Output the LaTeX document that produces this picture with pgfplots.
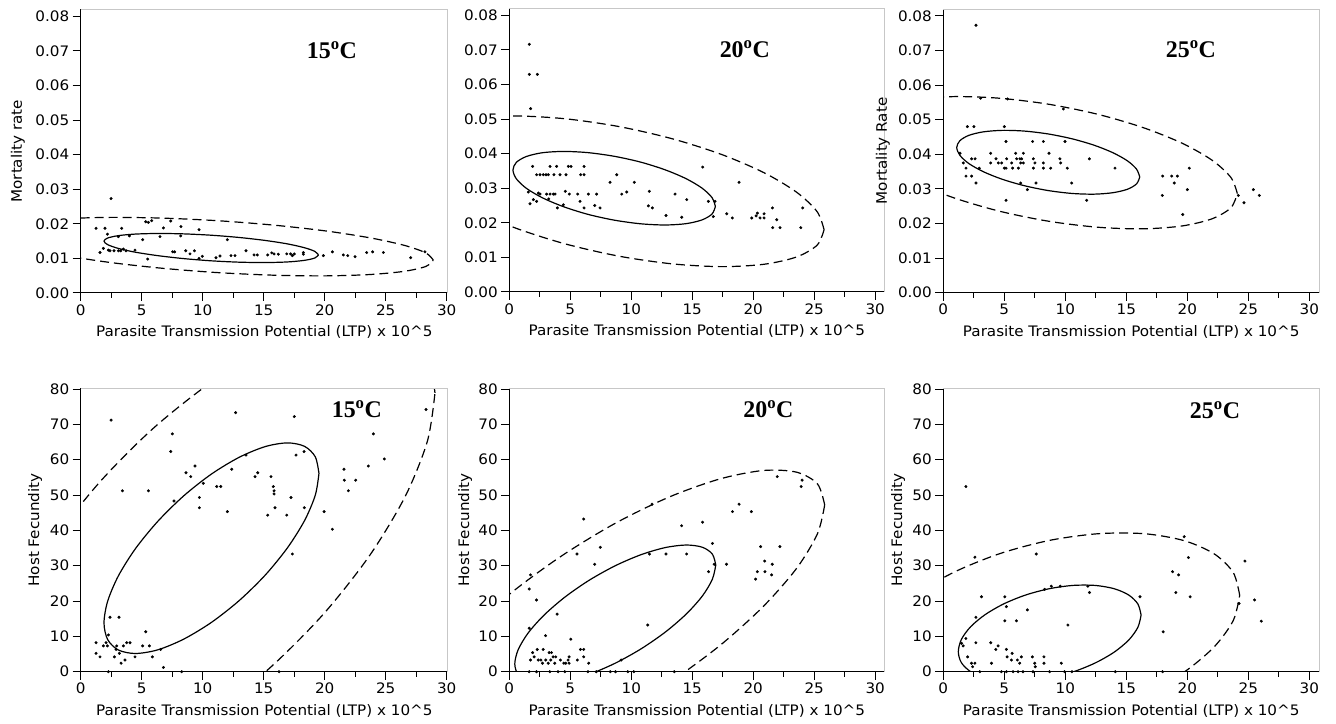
\documentclass[border=0pt]{standalone}
\usepackage{fontspec}
\setmainfont{DejaVu Sans}[FakeStretch=1.05]
\newfontfamily\tfont{Liberation Serif}
\usepackage{pgfplots}
\pgfplotsset{compat=1.18}
\pgfplotsset{
  panel/.style={
    scale only axis,
    anchor=south west,
    axis lines*=left,
    axis line style={black, line width=1bp},
    tick align=outside,
    major tick length=8bp,
    minor tick length=5bp,
    tick style={black, line width=1bp},
    xmin=0,
    xtick={0,5,10,15,20,25,30},
    minor x tick num=1,
    tick label style={font=\fontsize{14.5}{17}\selectfont},
    label style={font=\fontsize{14.5}{17}\selectfont},
    /pgf/number format/assume math mode=true,
    xlabel={Parasite Transmission Potential (LTP) x 10\textasciicircum 5},
    xlabel style={at={(axis description cs:0.5,-0.137)}, anchor=center},
    extra description/.code={\draw[black!22, line width=1bp] (0,1) -- (1,1) -- (1,0);},
  },
  toprow/.style={ymin=0, ymax=0.082, height=283.7bp,
    ytick={0,0.01,0.02,0.03,0.04,0.05,0.06,0.07,0.08},
    scaled y ticks=false,
    yticklabel style={/pgf/number format/.cd, fixed, fixed zerofill, precision=2}},
  botrow/.style={ymin=0, ymax=80.2, height=283.4bp, ytick={0,10,20,30,40,50,60,70,80}},
  dots/.style={only marks, mark=*, mark size=1.3bp, black},
  ell/.style={black, line width=1.2bp, smooth, no markers},
  dell/.style={black, line width=1.2bp, smooth, no markers, dash pattern=on 9bp off 5bp},
}
\newcommand{\ttl}[1]{{\tfont\bfseries\fontsize{24}{26}\selectfont #1\textsuperscript{o}C}}
\begin{document}
\begin{tikzpicture}
\path[use as bounding box] (0,0) rectangle (1336bp,724bp);

% ---------- Panel 1 ----------
\begin{axis}[panel, toprow, at={(80.7bp,431bp)}, width=367.2bp, xmax=30.1,
  ylabel={Mortality rate}, ylabel style={at={(axis description cs:-0.171,0.5)}, anchor=center}]
\addplot[dots] coordinates {
(1.26,0.0187)(1.99,0.0187)(2.49,0.0273)(1.58,0.0117)(1.86,0.0129)(2.19,0.0170)(2.27,0.0124)(2.40,0.0122)
(2.73,0.0122)(3.09,0.0122)(3.09,0.0163)(3.28,0.0122)(3.36,0.0187)(3.50,0.0127)(3.72,0.0122)(3.99,0.0165)
(4.45,0.0124)(5.08,0.0154)(5.33,0.0206)(5.55,0.0204)(5.82,0.0209)(5.49,0.0098)(6.50,0.0163)(6.78,0.0188)
(7.38,0.0208)(7.54,0.0119)(7.70,0.0119)(8.22,0.0192)(8.20,0.0165)(8.61,0.0122)(8.96,0.0113)(9.32,0.0122)
(9.70,0.0183)(9.70,0.0100)(9.97,0.0106)(11.09,0.0102)(11.42,0.0107)(12.02,0.0154)(12.32,0.0108)(12.65,0.0108)
(13.55,0.0122)(14.21,0.0110)(14.48,0.0110)(15.33,0.0110)(15.66,0.0116)(15.85,0.0113)(16.20,0.0112)(16.89,0.0113)
(17.21,0.0113)(17.35,0.0108)(17.51,0.0113)(18.25,0.0117)(18.25,0.0112)(19.89,0.0108)(20.63,0.0119)(21.53,0.0110)
(21.89,0.0108)(22.49,0.0105)(23.44,0.0117)(23.93,0.0119)(24.81,0.0117)(27.05,0.0102)(28.22,0.0119)};
\addplot[ell] coordinates {(19.49,0.0110)(19.19,0.01203)(18.31,0.01312)(16.92,0.01421)(15.10,0.0152)(12.98,0.01605)(10.70,0.0167)(8.42,0.01709)(6.31,0.0172)(4.48,0.01703)(3.09,0.01658)(2.21,0.01589)(1.91,0.0150)(2.21,0.01397)(3.09,0.01288)(4.48,0.01179)(6.31,0.0108)(8.42,0.00995)(10.70,0.0093)(12.98,0.00891)(15.10,0.0088)(16.92,0.00897)(18.31,0.00942)(19.19,0.01011)(19.49,0.0110)};
\addplot[dell] coordinates {(28.90,0.0095)(28.30,0.01157)(26.53,0.01377)(23.72,0.01594)(20.05,0.01795)(15.78,0.01963)(11.20,0.0209)(6.62,0.02165)(2.35,0.02185)(-1.32,0.02146)(-4.13,0.02053)(-5.90,0.01911)(-6.50,0.0173)(-5.90,0.01523)(-4.13,0.01303)(-1.32,0.01086)(2.35,0.00885)(6.62,0.00717)(11.20,0.0059)(15.78,0.00515)(20.05,0.00495)(23.72,0.00534)(26.53,0.00627)(28.30,0.00769)(28.90,0.0095)};
\node at (rel axis cs:0.684,0.857) {\ttl{15}};
\end{axis}

% ---------- Panel 2 ----------
\begin{axis}[panel, toprow, at={(509.3bp,432bp)}, width=375bp, xmax=30.75]
\addplot[dots] coordinates {
(1.64,0.0716)(1.64,0.0629)(2.30,0.0629)(1.75,0.0530)(1.56,0.0289)(1.91,0.0363)(1.70,0.0255)(1.97,0.0267)
(2.24,0.0262)(2.38,0.0286)(2.24,0.0339)(2.52,0.0339)(2.79,0.0339)(3.01,0.0339)(3.20,0.0339)(2.52,0.0283)
(3.06,0.0283)(3.34,0.0283)(3.61,0.0283)(3.75,0.0283)(3.23,0.0269)(3.34,0.0363)(3.66,0.0339)(3.88,0.0363)
(4.16,0.0339)(3.94,0.0243)(4.43,0.0252)(4.59,0.0291)(4.65,0.0339)(4.84,0.0363)(5.06,0.0363)(4.92,0.0283)
(5.61,0.0283)(5.80,0.0262)(5.85,0.0339)(6.13,0.0339)(6.13,0.0363)(6.13,0.0243)(6.48,0.0283)(7.00,0.0250)
(7.16,0.0283)(7.44,0.0243)(8.26,0.0317)(8.81,0.0339)(9.22,0.0283)(9.63,0.0289)(10.25,0.0317)(11.40,0.0249)
(11.48,0.0291)(11.73,0.0243)(12.85,0.0221)(13.59,0.0283)(14.14,0.0216)(14.55,0.0267)(15.86,0.0361)(16.32,0.0262)
(16.73,0.0218)(16.87,0.0262)(17.83,0.0226)(18.29,0.0214)(18.84,0.0317)(19.88,0.0214)(20.24,0.0220)(20.34,0.0228)
(20.56,0.0214)(20.89,0.0226)(20.89,0.0214)(21.58,0.0243)(21.60,0.0186)(21.93,0.0209)(22.20,0.0186)(23.90,0.0186)
(24.06,0.0243)};
\addplot[ell] coordinates {(16.90,0.02473)(16.62,0.0273)(15.79,0.03006)(14.47,0.0328)(12.75,0.03535)(10.75,0.03756)(8.60,0.03923)(6.45,0.04028)(4.45,0.04063)(2.73,0.04026)(1.41,0.03918)(0.58,0.03748)(0.30,0.03527)(0.58,0.0327)(1.41,0.02994)(2.73,0.0272)(4.45,0.02465)(6.45,0.02244)(8.60,0.02077)(10.75,0.01972)(12.75,0.01937)(14.47,0.01974)(15.79,0.02082)(16.62,0.02252)(16.90,0.02473)};
\addplot[dell] coordinates {(25.81,0.0180)(25.24,0.02323)(23.55,0.02886)(20.88,0.03449)(17.39,0.03977)(13.33,0.04432)(8.97,0.04783)(4.61,0.05006)(0.55,0.05087)(-2.94,0.05019)(-5.61,0.04808)(-7.30,0.04467)(-7.87,0.0402)(-7.30,0.03497)(-5.61,0.02934)(-2.94,0.02371)(0.55,0.01843)(4.61,0.01388)(8.97,0.01037)(13.33,0.00814)(17.39,0.00733)(20.88,0.00801)(23.55,0.01012)(25.24,0.01353)(25.81,0.0180)};
\node at (rel axis cs:0.628,0.855) {\ttl{20}};
\end{axis}

% ---------- Panel 3 ----------
\begin{axis}[panel, toprow, at={(943.3bp,431.3bp)}, width=375.8bp, xmax=30.8,
  ylabel={Mortality Rate}, ylabel style={at={(axis description cs:-0.161,0.5)}, anchor=center}]
\addplot[dots] coordinates {
(2.68,0.0773)(1.97,0.0480)(2.51,0.0480)(1.37,0.0403)(1.64,0.0375)(1.86,0.0360)(1.86,0.0337)(2.32,0.0337)
(2.32,0.0387)(2.60,0.0387)(2.68,0.0317)(2.95,0.0360)(3.06,0.0562)(3.88,0.0403)(3.88,0.0375)(4.32,0.0387)
(4.51,0.0375)(4.78,0.0375)(5.00,0.0480)(5.00,0.0360)(5.14,0.0437)(5.14,0.0360)(5.19,0.0387)(5.14,0.0267)
(5.27,0.0560)(5.60,0.0375)(5.68,0.0360)(5.93,0.0403)(6.01,0.0387)(6.15,0.0360)(6.28,0.0387)(6.34,0.0375)
(6.42,0.0387)(6.34,0.0317)(6.56,0.0403)(6.56,0.0375)(6.89,0.0298)(7.32,0.0437)(7.38,0.0387)(7.38,0.0360)
(7.51,0.0375)(7.60,0.0317)(8.20,0.0437)(8.20,0.0375)(8.20,0.0360)(8.66,0.0403)(8.80,0.0360)(9.56,0.0387)
(9.62,0.0375)(9.84,0.0531)(9.97,0.0437)(10.16,0.0360)(10.52,0.0317)(11.75,0.0267)(11.97,0.0387)(14.07,0.0360)
(17.98,0.0337)(17.95,0.0281)(18.72,0.0337)(18.93,0.0317)(19.18,0.0337)(19.62,0.0226)(20.00,0.0298)(20.16,0.0360)
(24.18,0.0281)(24.64,0.0260)(25.41,0.0298)(25.90,0.0281)};
\addplot[ell] coordinates {(16.10,0.03343)(15.84,0.0357)(15.10,0.03809)(13.90,0.04046)(12.35,0.04264)(10.54,0.04449)(8.60,0.04588)(6.66,0.04671)(4.85,0.04692)(3.30,0.0465)(2.10,0.04549)(1.36,0.04394)(1.10,0.04197)(1.36,0.0397)(2.10,0.03731)(3.30,0.03494)(4.85,0.03276)(6.66,0.03091)(8.60,0.02952)(10.54,0.02869)(12.35,0.02848)(13.90,0.0289)(15.10,0.02991)(15.84,0.03146)(16.10,0.03343)};
\addplot[dell] coordinates {(24.10,0.02863)(23.57,0.03331)(22.03,0.03829)(19.57,0.04321)(16.36,0.04774)(12.63,0.05159)(8.62,0.05448)(4.61,0.05621)(0.88,0.05668)(-2.33,0.05585)(-4.79,0.05377)(-6.33,0.05059)(-6.86,0.04651)(-6.33,0.04183)(-4.79,0.03685)(-2.33,0.03193)(0.88,0.0274)(4.61,0.02355)(8.62,0.02066)(12.63,0.01893)(16.36,0.01846)(19.57,0.01929)(22.03,0.02137)(23.57,0.02455)(24.10,0.02863)};
\node at (rel axis cs:0.659,0.858) {\ttl{25}};
\end{axis}

% ---------- Panel 4 ----------
\begin{axis}[panel, botrow, at={(80.7bp,52.3bp)}, width=367.2bp, xmax=30.1,
  ylabel={Host Fecundity}, ylabel style={at={(axis description cs:-0.124,0.5)}, anchor=center}]
\addplot[dots] coordinates {
(2.49,71.2)(1.26,8.2)(1.26,5.2)(1.58,4.2)(1.86,7.3)(2.08,8.2)(2.19,7.3)(2.27,10.4)(2.40,15.4)(2.27,0)
(2.76,4.2)(2.90,6.3)(2.95,7.3)(3.14,15.4)(3.17,5.2)(3.31,2.4)(3.42,51.2)(3.50,7.3)(3.63,3.3)(3.77,8.2)
(4.04,8.2)(4.45,4.2)(5.08,7.3)(5.33,11.3)(5.55,51.2)(5.63,7.3)(5.87,4.2)(6.56,6.3)(6.78,1.2)(7.38,62.3)
(7.51,67.3)(7.65,48.3)(8.28,0)(8.63,56.3)(9.02,55.2)(9.37,58.2)(9.73,49.3)(9.73,46.4)(10.05,53.3)(11.15,52.4)
(11.48,52.4)(12.02,45.3)(12.38,57.3)(12.70,73.3)(13.55,61.3)(14.29,55.2)(14.51,56.3)(15.33,44.3)(15.60,55.2)(15.79,52.4)
(15.85,51.2)(15.85,50.3)(15.93,46.4)(16.26,0)(16.89,44.3)(17.24,49.3)(17.35,33.3)(17.51,72.2)(17.65,61.3)(18.31,62.3)
(18.33,46.4)(19.95,45.3)(20.63,40.3)(21.58,57.3)(21.61,54.2)(21.94,51.2)(22.54,54.2)(23.58,58.2)(23.99,67.3)(24.89,60.2)
(28.31,74.2)};
\addplot[ell] coordinates {(19.53,56.10)(19.23,60.81)(18.35,63.77)(16.95,64.75)(15.13,63.71)(13.00,60.69)(10.72,55.94)(8.44,49.75)(6.32,42.55)(4.49,34.83)(3.09,27.13)(2.21,19.95)(1.91,13.80)(2.21,9.09)(3.09,6.13)(4.49,5.15)(6.32,6.19)(8.44,9.21)(10.72,13.96)(13.00,20.15)(15.13,27.35)(16.95,35.07)(18.35,42.77)(19.23,49.95)(19.53,56.10)};
\addplot[dell] coordinates {(29.04,78.92)(28.42,89.58)(26.59,96.53)(23.67,99.27)(19.88,97.64)(15.46,91.73)(10.72,81.95)(5.98,68.97)(1.56,53.66)(-2.23,37.09)(-5.15,20.37)(-6.98,4.64)(-7.60,-9.02)(-6.98,-19.68)(-5.15,-26.63)(-2.23,-29.37)(1.56,-27.74)(5.98,-21.83)(10.72,-12.05)(15.46,0.93)(19.88,16.24)(23.67,32.81)(26.59,49.53)(28.42,65.26)(29.04,78.92)};
\node at (rel axis cs:0.752,0.925) {\ttl{15}};
\end{axis}

% ---------- Panel 5 ----------
\begin{axis}[panel, botrow, at={(509.3bp,52.3bp)}, width=375bp, xmax=30.75,
  ylabel={Host Fecundity}, ylabel style={at={(axis description cs:-0.118,0.5)}, anchor=center}]
\addplot[dots] coordinates {
(6.10,43.2)(5.55,33.3)(7.46,35.2)(7.00,30.4)(1.63,23.4)(1.74,27.4)(2.23,20.3)(1.63,12.3)(3.92,16.3)(2.97,10.2)
(5.04,9.2)(11.35,13.2)(11.71,47.4)(11.49,33.3)(12.85,33.3)(14.13,41.3)(14.54,33.3)(15.85,42.3)(16.66,36.3)(16.34,28.3)
(16.80,30.4)(17.81,30.4)(18.30,45.3)(18.84,47.4)(19.85,45.3)(20.20,26.2)(20.34,28.3)(20.61,35.4)(20.94,31.3)(20.96,28.3)
(21.56,30.4)(21.51,27.4)(22.19,35.4)(21.97,55.2)(23.93,52.4)(24.01,54.2)
(1.63,0)(1.74,3.3)(1.91,5.4)(2.04,4.2)(2.29,6.3)(2.37,3.3)(2.23,0)(2.59,3.3)(2.78,6.3)(2.72,2.4)
(2.99,3.3)(3.19,2.4)(3.27,5.4)(3.40,3.3)(3.46,5.4)(3.59,4.2)(3.73,2.4)(3.81,4.2)(3.32,0)(4.00,0)
(4.19,3.3)(4.47,2.4)(4.55,0)(4.90,4.2)(4.90,2.4)(4.82,3.3)(4.63,2.4)(5.58,3.3)(5.83,6.3)(6.10,6.3)
(6.10,4.2)(6.51,2.4)(6.45,0)(7.13,0)(8.28,0)(8.71,0)(9.17,3.3)(9.72,0)(10.21,0)(13.53,0)};
\addplot[ell] coordinates {(16.93,30.20)(16.65,33.29)(15.83,35.22)(14.52,35.85)(12.81,35.14)(10.82,33.14)(8.69,29.99)(6.56,25.90)(4.57,21.14)(2.86,16.05)(1.55,10.98)(0.73,6.25)(0.45,2.20)(0.73,-0.89)(1.55,-2.82)(2.86,-3.45)(4.57,-2.74)(6.56,-0.74)(8.69,2.41)(10.82,6.50)(12.81,11.26)(14.52,16.35)(15.83,21.42)(16.65,26.15)(16.93,30.20)};
\addplot[dell] coordinates {(25.86,47.20)(25.27,53.14)(23.56,56.46)(20.83,56.94)(17.28,54.56)(13.13,49.46)(8.69,42.00)(4.25,32.68)(0.10,22.16)(-3.45,11.12)(-6.18,0.34)(-7.89,-9.46)(-8.48,-17.60)(-7.89,-23.54)(-6.18,-26.86)(-3.45,-27.34)(0.10,-24.96)(4.25,-19.86)(8.69,-12.40)(13.13,-3.08)(17.28,7.44)(20.83,18.48)(23.56,29.26)(25.27,39.06)(25.86,47.20)};
\node at (rel axis cs:0.691,0.927) {\ttl{20}};
\end{axis}

% ---------- Panel 6 ----------
\begin{axis}[panel, botrow, at={(943.3bp,52.3bp)}, width=375.8bp, xmax=30.8,
  ylabel={Host Fecundity}, ylabel style={at={(axis description cs:-0.1205,0.5)}, anchor=center}]
\addplot[dots] coordinates {
(1.85,52.4)(2.59,32.4)(7.62,33.3)(3.13,21.2)(5.04,21.2)(5.17,18.4)(2.67,15.4)(5.04,14.4)(5.99,14.4)(6.89,17.5)
(8.85,24.2)(9.58,24.2)(8.30,23.3)(11.84,24.2)(11.98,22.4)(10.21,13.2)(16.12,21.2)(1.63,7.3)(1.50,8.0)(1.85,9.4)
(1.99,4.2)(2.67,8.2)(2.31,2.4)(2.40,1.4)(2.59,2.4)(2.99,0)(3.89,8.2)(3.95,2.4)(4.30,6.3)(4.49,7.3)
(4.76,0)(5.17,6.3)(5.23,4.2)(5.17,0)(5.64,5.2)(5.58,3.3)(5.72,0)(6.07,3.3)(6.26,2.4)(6.40,4.2)
(6.13,0)(6.53,0)(7.30,4.2)(7.49,2.4)(7.54,1.4)(7.35,0)(8.25,4.2)(8.25,2.4)(8.71,0)(9.67,2.4)
(9.94,0)(10.54,0)(14.10,0)(18.02,11.3)(17.97,0)(18.79,28.3)(19.28,27.4)(19.06,22.4)(19.74,38.2)(20.09,32.3)
(20.23,21.2)(24.23,19.3)(24.72,31.3)(25.51,20.3)(26.06,14.3)};
\addplot[ell] coordinates {(16.21,16.04)(15.95,19.14)(15.21,21.67)(14.02,23.47)(12.46,24.41)(10.65,24.42)(8.72,23.51)(6.78,21.74)(4.97,19.22)(3.42,16.13)(2.23,12.69)(1.48,9.12)(1.23,5.66)(1.48,2.56)(2.23,0.03)(3.42,-1.77)(4.97,-2.71)(6.78,-2.72)(8.72,-1.81)(10.65,-0.04)(12.46,2.49)(14.02,5.57)(15.21,9.01)(15.95,12.58)(16.21,16.04)};
\addplot[dell] coordinates {(24.29,21.64)(23.76,28.08)(22.20,33.35)(19.73,37.09)(16.50,39.04)(12.75,39.06)(8.72,37.17)(4.69,33.48)(0.93,28.25)(-2.30,21.83)(-4.77,14.67)(-6.32,7.24)(-6.86,0.06)(-6.32,-6.38)(-4.77,-11.65)(-2.30,-15.39)(0.93,-17.34)(4.69,-17.36)(8.72,-15.47)(12.75,-11.78)(16.50,-6.55)(19.73,-0.13)(22.20,7.03)(23.76,14.46)(24.29,21.64)};
\node at (rel axis cs:0.723,0.923) {\ttl{25}};
\end{axis}
\end{tikzpicture}
\end{document}
